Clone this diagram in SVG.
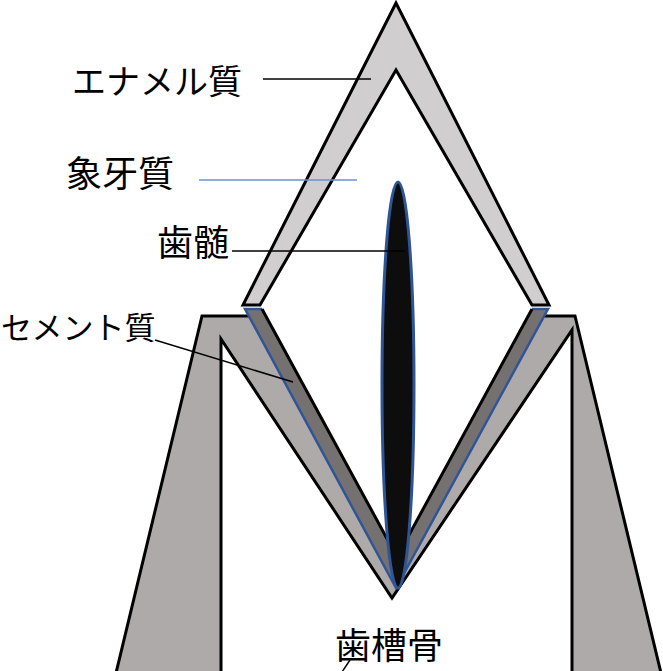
<svg xmlns="http://www.w3.org/2000/svg" width="663" height="671" viewBox="0 0 663 671">
  <style>
    .lbl { font-family: "Noto Sans CJK JP", "Noto Sans CJK SC", sans-serif; fill: #000; }
    .edge { stroke: #000; stroke-width: 3; stroke-linejoin: miter; }
    .lead { fill: none; stroke: #000; stroke-width: 1.5; }
  </style>
  <rect width="663" height="671" fill="#fff"/>

  <!-- alveolar bone: grey block with a white inner cavity -->
  <g id="alveolar-bone">
    <polygon class="edge" points="202,316 575,316 661,673 116,673" fill="#AEAAAA"/>
    <polygon class="edge" points="221,673 221,339 392,598 572,330 572,673" fill="#fff"/>
  </g>

  <!-- root: cementum band around the dentin -->
  <g id="cementum">
    <polygon points="245,309 396,588 548,309 532,309 397,557 262,309" fill="#767171"/>
    <polygon points="262,309 397,557 532,309" fill="#fff"/>
    <path d="M262,309 H245 L396,588 L548,309 H532" fill="none" stroke="#2F5597" stroke-width="2.5" stroke-linejoin="miter"/>
  </g>

  <g id="dentin">
    <path class="edge" d="M262,309 L397,557 L532,309" fill="none"/>
  </g>

  <!-- crown enamel -->
  <g id="enamel">
    <polygon class="edge" points="396,3 243,305 260,305 396,70 532,305 549,305" fill="#D0CECE"/>
  </g>

  <!-- pulp -->
  <g id="pulp">
    <ellipse cx="398" cy="385" rx="16" ry="203" fill="#0D0D0D" stroke="#2F5597" stroke-width="3"/>
  </g>

  <!-- leader lines -->
  <g id="connectors">
    <line class="lead" x1="263" y1="79" x2="371" y2="79"/>
    <line x1="199" y1="180" x2="357" y2="180" stroke="#6F8FCB" stroke-width="1.5"/>
    <line class="lead" x1="232" y1="251" x2="405" y2="251"/>
    <line class="lead" x1="155" y1="340" x2="293" y2="382"/>
    <line class="lead" x1="350" y1="660" x2="342" y2="672"/>
  </g>

  <!-- labels -->
  <g id="label-enamel"><text class="lbl" x="72" y="94" font-size="34">エナメル質</text></g>
  <g id="label-dentin"><text class="lbl" x="66" y="187" font-size="36">象牙質</text></g>
  <g id="label-pulp"><text class="lbl" x="157" y="256" font-size="36">歯髄</text></g>
  <g id="label-cementum"><text class="lbl" x="1" y="339" font-size="31">セメント質</text></g>
  <g id="label-bone"><text class="lbl" x="335" y="659" font-size="36">歯槽骨</text></g>
</svg>
